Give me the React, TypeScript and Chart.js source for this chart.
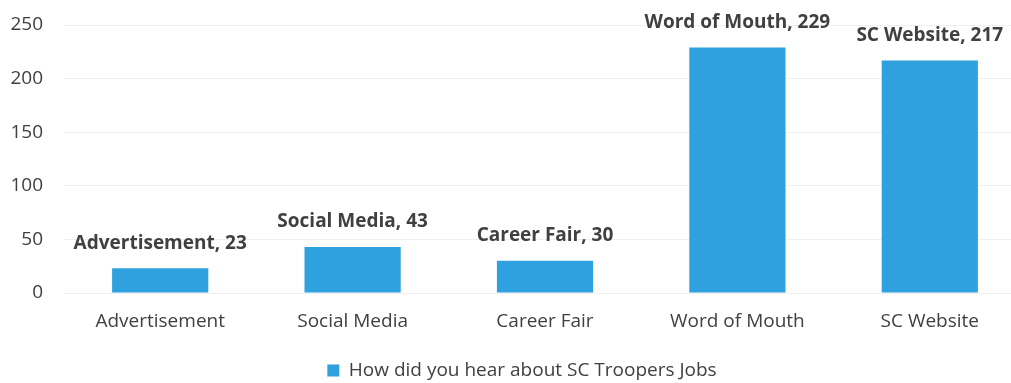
import React, { useEffect, useRef } from "react";
import { Chart, registerables } from "chart.js";

Chart.register(...registerables);

const categories = ["Advertisement", "Social Media", "Career Fair", "Word of Mouth", "SC Website"];
const values = [23, 43, 30, 229, 217];
const seriesName = "How did you hear about SC Troopers Jobs";
const yTicks = [0, 50, 100, 150, 200, 250];

const FONT = '"Open Sans", "DejaVu Sans", sans-serif';
const TEXT = "#404040";
const BAR = "#2ea1de";

const valueLabels = {
  id: "valueLabels",
  afterDatasetsDraw(chart: any) {
    const ctx = chart.ctx;
    const meta = chart.getDatasetMeta(0);
    ctx.save();
    ctx.font = `bold 19px ${FONT}`;
    ctx.fillStyle = TEXT;
    ctx.textAlign = "center";
    ctx.textBaseline = "middle";
    meta.data.forEach((bar: any, i: number) => {
      ctx.fillText(`${categories[i]}, ${values[i]}`, bar.x, bar.y - 25);
    });
    ctx.restore();
  },
};

const legendShift = {
  id: "legendShift",
  afterLayout(chart: any) {
    if (chart.legend) chart.legend.left += 18;
  },
};

export default function App() {
  const ref = useRef<HTMLCanvasElement | null>(null);
  useEffect(() => {
    document.body.style.margin = "0";
    const chart = new Chart(ref.current as HTMLCanvasElement, {
      type: "bar",
      data: {
        labels: categories,
        datasets: [
          {
            label: seriesName,
            data: values,
            backgroundColor: BAR,
            borderWidth: 0,
            barPercentage: 0.5,
            categoryPercentage: 1.0,
          },
        ],
      },
      options: {
        animation: false,
        responsive: true,
        maintainAspectRatio: false,
        layout: { padding: { top: 25, left: 0, right: 4, bottom: 0 } },
        plugins: {
          legend: {
            position: "bottom",
            labels: {
              boxWidth: 12,
              boxHeight: 12,
              padding: 20,
              color: TEXT,
              font: { family: FONT, size: 19 },
            },
          },
          tooltip: { enabled: false },
        },
        scales: {
          x: {
            grid: { display: false, drawTicks: false },
            border: { display: false },
            ticks: { color: TEXT, font: { family: FONT, size: 19 }, padding: 17, maxRotation: 0 },
            afterFit(scale: any) {
              scale.height = 48;
            },
          },
          y: {
            min: 0,
            max: 250,
            afterBuildTicks(scale: any) {
              scale.ticks = yTicks.map((v) => ({ value: v }));
            },
            grid: { color: "#efefef", drawTicks: false },
            border: { display: false },
            ticks: { color: TEXT, font: { family: FONT, size: 19 }, padding: 21 },
            afterFit(scale: any) {
              scale.width = 64;
              scale.paddingTop = 0;
              scale.paddingBottom = 0;
            },
          },
        },
      },
      plugins: [valueLabels, legendShift],
    });
    return () => chart.destroy();
  }, []);
  return (
    <div style={{ width: 1011, height: 383, overflow: "hidden", background: "#fff" }}>
      <div style={{ width: 1030, height: 390, position: "relative" }}>
        <canvas ref={ref} />
      </div>
    </div>
  );
}
